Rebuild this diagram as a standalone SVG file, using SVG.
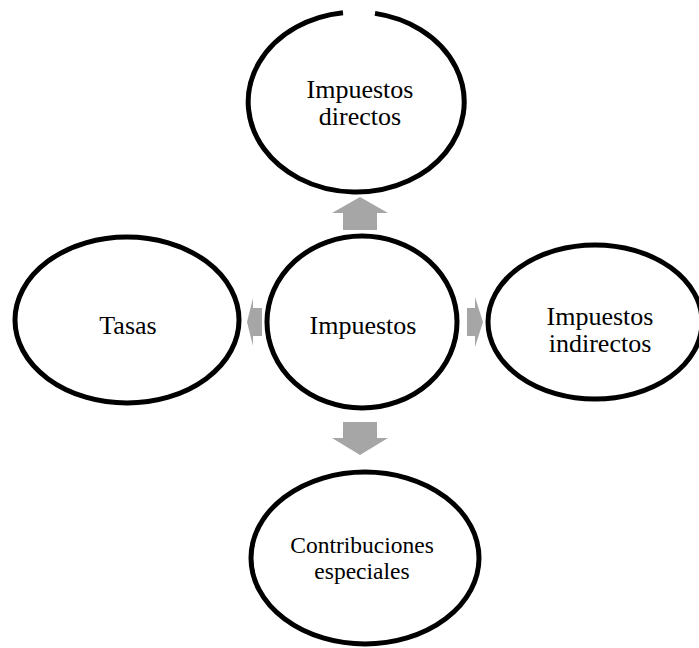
<svg xmlns="http://www.w3.org/2000/svg" width="699" height="648" viewBox="0 0 699 648">
<style>
.node{fill:#fff;stroke:#000;stroke-width:5}
.lbl{font-family:"Liberation Serif","Times New Roman",serif;font-size:26px;fill:#000;text-anchor:middle}
.arr{fill:#a6a6a6}
</style>
<rect width="699" height="648" fill="#fff"/>
<g id="connectors">
<polygon class="arr" points="360,197 388,213 377,213 377,230 343,230 343,213 332,213"/>
<polygon class="arr" points="360,455 388,438 377,438 377,422 343,422 343,438 332,438"/>
<polygon class="arr" points="247,322 253,298 253,308 262,308 262,336 253,336 253,346"/>
<polygon class="arr" points="483,322 475,297 475,308 467,308 467,336 475,336 475,347"/>
</g>
<g id="directos">
<path class="node" d="M 343 12.7 A 108 90 0 1 0 375 13.4"/>
<text class="lbl" x="360" y="98">Impuestos</text>
<text class="lbl" x="360" y="125">directos</text>
</g>
<g id="impuestos">
<ellipse class="node" cx="362" cy="322" rx="95" ry="86"/>
<text class="lbl" x="363" y="334">Impuestos</text>
</g>
<g id="tasas">
<ellipse class="node" cx="127" cy="320" rx="112" ry="83"/>
<text class="lbl" x="128" y="334">Tasas</text>
</g>
<g id="indirectos">
<ellipse class="node" cx="595" cy="322" rx="107" ry="77"/>
<text class="lbl" x="600" y="325">Impuestos</text>
<text class="lbl" x="600" y="352">indirectos</text>
</g>
<g id="contribuciones">
<ellipse class="node" cx="365" cy="558" rx="114" ry="86"/>
<text class="lbl" x="362" y="553" style="font-size:23.5px">Contribuciones</text>
<text class="lbl" x="362" y="579" style="font-size:23.5px">especiales</text>
</g>
</svg>
